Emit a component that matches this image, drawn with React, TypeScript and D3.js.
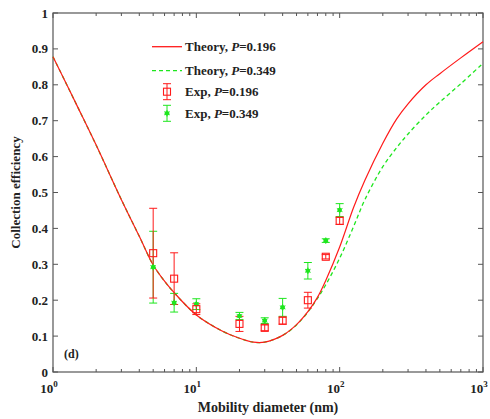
import React, { useEffect, useRef } from 'react';
import * as d3 from 'd3';

// theory curves (diameter in nm)
const theoryDiam = [1, 1.5, 2, 3, 4, 5, 6, 7, 10, 15, 20, 25, 30, 40, 50, 60, 70, 80, 100, 125, 150, 200, 250, 300, 400, 500, 700, 1000];
const theoryP196 = [0.878, 0.735, 0.632, 0.48, 0.378, 0.298, 0.253, 0.221, 0.159, 0.115, 0.094, 0.083, 0.083, 0.102, 0.132, 0.168, 0.208, 0.255, 0.348, 0.458, 0.534, 0.637, 0.705, 0.747, 0.8, 0.831, 0.875, 0.92];
const theoryP349 = [0.878, 0.735, 0.632, 0.48, 0.378, 0.298, 0.253, 0.221, 0.159, 0.115, 0.094, 0.083, 0.083, 0.102, 0.131, 0.167, 0.205, 0.243, 0.317, 0.405, 0.48, 0.572, 0.625, 0.663, 0.716, 0.752, 0.803, 0.86];

// experiments
const expDiam = [5, 7, 10, 20, 30, 40, 60, 80, 100];
const expP196 = [0.331, 0.26, 0.175, 0.134, 0.123, 0.143, 0.2, 0.321, 0.421];
const errP196 = [0.125, 0.072, 0.015, 0.021, 0.008, 0.01, 0.022, 0.006, 0.01];
const expP349 = [0.292, 0.193, 0.189, 0.156, 0.143, 0.18, 0.282, 0.366, 0.451];
const errP349 = [0.1, 0.026, 0.015, 0.01, 0.008, 0.025, 0.023, 0.005, 0.018];

const yTicks = [0, 0.1, 0.2, 0.3, 0.4, 0.5, 0.6, 0.7, 0.8, 0.9, 1];
const xMajor = [1, 10, 100, 1000];

const RED = '#ff1a1a';
const GREEN = '#1ee61e';
const AXIS = '#555';
const FONT = '"Liberation Serif", "Times New Roman", serif';

export default function App() {
  const ref = useRef<SVGSVGElement>(null);

  useEffect(() => {
    const svg = d3.select(ref.current);
    svg.selectAll('*').remove();

    const left = 53, right = 483, top = 13, bottom = 372;
    const x = d3.scaleLog().domain([1, 1000]).range([left, right]);
    const y = d3.scaleLinear().domain([0, 1]).range([bottom, top]);

    const g = svg.append('g');

    // frame
    g.append('rect')
      .attr('x', left).attr('y', top)
      .attr('width', right - left).attr('height', bottom - top)
      .attr('fill', 'none').attr('stroke', AXIS).attr('stroke-width', 1.2);

    // x ticks (log, inward, top+bottom)
    const xt = x.ticks();
    xt.forEach((d) => {
      const major = xMajor.includes(d);
      const len = major ? 5 : 3;
      const px = x(d);
      g.append('line').attr('x1', px).attr('x2', px).attr('y1', bottom).attr('y2', bottom - len)
        .attr('stroke', AXIS);
      g.append('line').attr('x1', px).attr('x2', px).attr('y1', top).attr('y2', top + len)
        .attr('stroke', AXIS);
    });
    xMajor.forEach((d, i) => {
      const t = g.append('text')
        .attr('x', x(d) - 4).attr('y', 393)
        .attr('text-anchor', 'middle')
        .attr('font-family', FONT).attr('font-weight', 'bold').attr('font-size', 13)
        .attr('fill', '#222');
      t.append('tspan').text('10');
      t.append('tspan').attr('dy', -6).attr('font-size', 9).text(String(i));
    });

    // y ticks
    yTicks.forEach((d) => {
      const py = y(d);
      g.append('line').attr('x1', left).attr('x2', left + 5).attr('y1', py).attr('y2', py).attr('stroke', AXIS);
      g.append('line').attr('x1', right).attr('x2', right - 5).attr('y1', py).attr('y2', py).attr('stroke', AXIS);
      g.append('text')
        .attr('x', left - 5).attr('y', py + 4.5)
        .attr('text-anchor', 'end')
        .attr('font-family', FONT).attr('font-weight', 'bold').attr('font-size', 13)
        .attr('fill', '#222')
        .text(d3.format('~g')(d));
    });

    // axis titles
    g.append('text')
      .attr('x', 268).attr('y', 412)
      .attr('text-anchor', 'middle')
      .attr('font-family', FONT).attr('font-weight', 'bold').attr('font-size', 14)
      .attr('fill', '#222')
      .text('Mobility diameter (nm)');
    g.append('text')
      .attr('transform', `translate(20,${(top + bottom) / 2}) rotate(-90)`)
      .attr('text-anchor', 'middle')
      .attr('font-family', FONT).attr('font-weight', 'bold').attr('font-size', 13)
      .attr('fill', '#222')
      .text('Collection efficiency');

    g.append('text')
      .attr('x', 64).attr('y', 358)
      .attr('font-family', FONT).attr('font-weight', 'bold').attr('font-size', 12)
      .attr('fill', '#222')
      .text('(d)');

    // theory lines
    const line = d3.line<number>()
      .x((d, i) => x(theoryDiam[i]))
      .y((d) => y(d))
      .curve(d3.curveCatmullRom.alpha(0.5));

    g.append('path').attr('d', line(theoryP349)).attr('fill', 'none')
      .attr('stroke', GREEN).attr('stroke-width', 1.3).attr('stroke-dasharray', '4,3');
    g.append('path').attr('d', line(theoryP196)).attr('fill', 'none')
      .attr('stroke', RED).attr('stroke-width', 1.2);

    // error bars
    const errBar = (vals: number[], errs: number[], color: string) => {
      expDiam.forEach((d, i) => {
        const px = x(d);
        const y1 = y(vals[i] + errs[i]);
        const y2 = y(vals[i] - errs[i]);
        g.append('line').attr('x1', px).attr('x2', px).attr('y1', y1).attr('y2', y2).attr('stroke', color);
        [y1, y2].forEach((yy) => {
          g.append('line').attr('x1', px - 4).attr('x2', px + 4).attr('y1', yy).attr('y2', yy).attr('stroke', color);
        });
      });
    };
    errBar(expP349, errP349, GREEN);
    errBar(expP196, errP196, RED);

    const star = (cx: number, cy: number) => {
      g.append('circle').attr('cx', cx).attr('cy', cy).attr('r', 2.3).attr('fill', GREEN);
      [0, 60, 120].forEach((a) => {
        const r = (a * Math.PI) / 180;
        g.append('line')
          .attr('x1', cx - 3.2 * Math.sin(r)).attr('x2', cx + 3.2 * Math.sin(r))
          .attr('y1', cy - 3.2 * Math.cos(r)).attr('y2', cy + 3.2 * Math.cos(r))
          .attr('stroke', GREEN).attr('stroke-width', 1);
      });
    };
    const square = (cx: number, cy: number) => {
      g.append('rect').attr('x', cx - 3.5).attr('y', cy - 3.5).attr('width', 7).attr('height', 7)
        .attr('fill', 'none').attr('stroke', RED).attr('stroke-width', 1.1);
    };

    expDiam.forEach((d, i) => star(x(d), y(expP349[i])));
    expDiam.forEach((d, i) => square(x(d), y(expP196[i])));

    // legend
    const lg = g.append('g');
    const rows = [
      { kind: 'line', color: RED, dash: null, p: '0.196', label: 'Theory, ' },
      { kind: 'line', color: GREEN, dash: '4,3', p: '0.349', label: 'Theory, ' },
      { kind: 'sq', color: RED, dash: null, p: '0.196', label: 'Exp, ' },
      { kind: 'star', color: GREEN, dash: null, p: '0.349', label: 'Exp, ' },
    ];
    const rowY = [46.7, 70.7, 91.7, 113.3];
    rows.forEach((r, i) => {
      const yy = rowY[i];
      if (r.kind === 'line') {
        const l = lg.append('line').attr('x1', 152).attr('x2', 182).attr('y1', yy).attr('y2', yy)
          .attr('stroke', r.color).attr('stroke-width', 1.3);
        if (r.dash) l.attr('stroke-dasharray', r.dash);
      } else {
        lg.append('line').attr('x1', 167).attr('x2', 167).attr('y1', yy - 8).attr('y2', yy + 8).attr('stroke', r.color);
        [yy - 8, yy + 8].forEach((cy) => {
          lg.append('line').attr('x1', 163).attr('x2', 171).attr('y1', cy).attr('y2', cy).attr('stroke', r.color);
        });
        if (r.kind === 'sq') square(167, yy);
        else star(167, yy);
      }
      const t = lg.append('text')
        .attr('x', 185).attr('y', yy + 4.5)
        .attr('font-family', FONT).attr('font-weight', 'bold').attr('font-size', 13)
        .attr('fill', '#222');
      t.append('tspan').text(r.label);
      t.append('tspan').attr('font-style', 'italic').text('P');
      t.append('tspan').text('=' + r.p);
    });
  }, []);

  return (
    <svg ref={ref} width={490} height={419}
      style={{ position: 'absolute', left: 0, top: 0, background: '#fff' }} />
  );
}
